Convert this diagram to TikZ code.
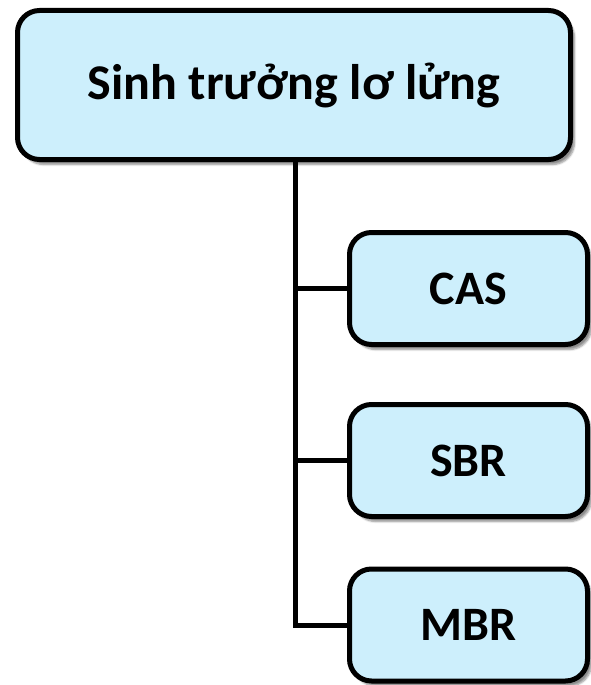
\documentclass[tikz,border=0pt]{standalone}
\usepackage{fontspec}
\setmainfont{Carlito}
\usetikzlibrary{shadows.blur}
\definecolor{boxblue}{RGB}{205,239,252}
\tikzset{
	% boxes of the tree
	box/.style={draw=black, line width=5pt, fill=boxblue, rounded corners=22pt,
		blur shadow={shadow xshift=4pt, shadow yshift=-5pt, shadow blur steps=6, shadow opacity=45},
		font=\fontsize{48}{58}\selectfont\bfseries, inner sep=0pt},
	leaf/.style={box, minimum width=238pt, minimum height=112pt},
	link/.style={draw=black, line width=5pt}
}
\begin{document}
\begin{tikzpicture}[x=1pt, y=-1pt]
	\useasboundingbox (0,0) rectangle (590,685);
	\node[box, minimum width=553pt, minimum height=149pt, font=\fontsize{50}{60}\selectfont\bfseries] (root) at (294,85) {Sinh trưởng lơ lửng};
	\node[leaf] (cas) at (468.5,288.5) {CAS};
	\node[leaf] (sbr) at (468.5,460.5) {SBR};
	\node[leaf] (mbr) at (468.5,625) {MBR};
	\coordinate (stem) at (295,0);
	% connectors
	\draw[link] (root.south -| stem) |- (mbr.west);
	\draw[link] (cas.west -| stem) -- (cas.west);
	\draw[link] (sbr.west -| stem) -- (sbr.west);
\end{tikzpicture}
\end{document}
